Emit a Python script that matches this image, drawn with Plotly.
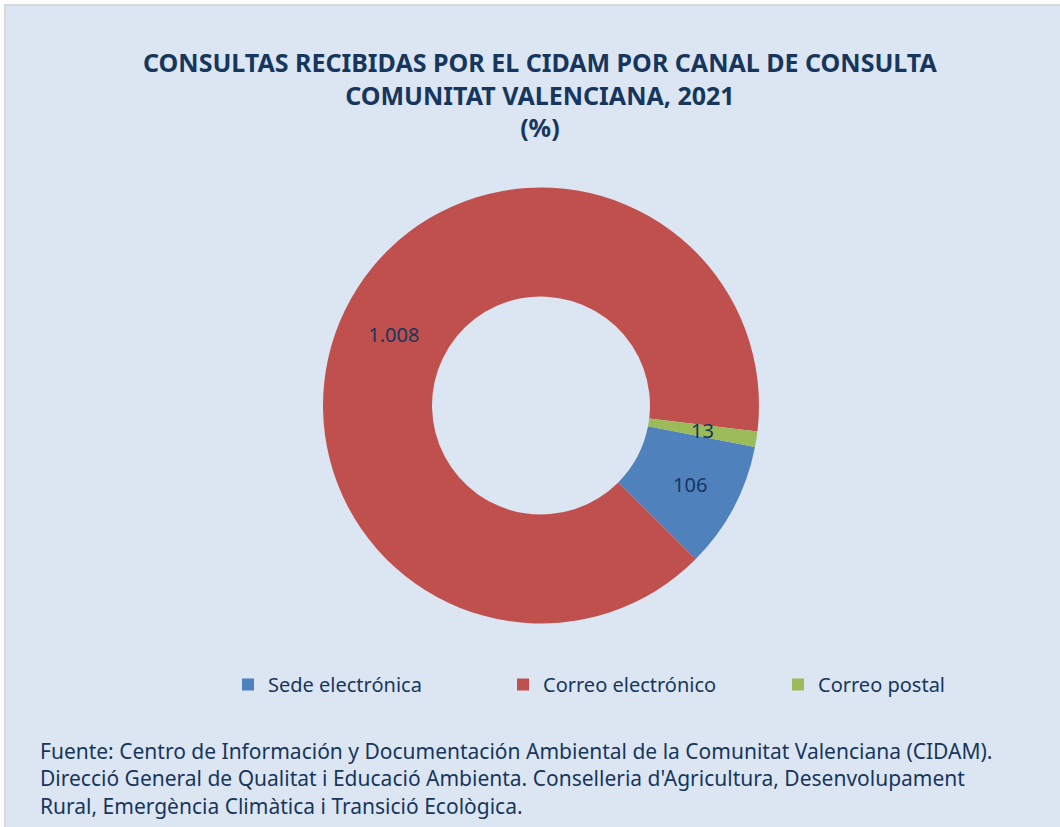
import math
import plotly.graph_objects as go

categories = ["Sede electrónica", "Correo electrónico", "Correo postal"]
values = [106, 1008, 13]
value_labels = ["106", "1.008", "13"]
colors = ["#4F81BD", "#C0504D", "#9BBB59"]

title_lines = [
    "CONSULTAS RECIBIDAS POR EL CIDAM POR CANAL DE CONSULTA",
    "COMUNITAT VALENCIANA, 2021",
    "(%)",
]
source_lines = [
    "Fuente: Centro de Información y Documentación Ambiental de la Comunitat Valenciana (CIDAM).",
    "Direcció General de Qualitat i Educació Ambienta. Conselleria d'Agricultura, Desenvolupament",
    "Rural, Emergència Climàtica i Transició Ecològica.",
]

W, H = 1060, 827
NAVY = "#17365D"
FONT = "Noto Sans"

cx, cy, r = 541, 405.5, 218
HOLE = 0.5
ROTATION = 101

# small slices get their label as an annotation at mid-ring (like the original)
SMALL = 0.03
total = sum(values)
pie_text = [t if v / total >= SMALL else "" for t, v in zip(value_labels, values)]

fig = go.Figure()
fig.add_trace(go.Pie(
    labels=categories,
    values=values,
    text=pie_text,
    textinfo="text",
    textposition="inside",
    insidetextorientation="horizontal",
    textfont=dict(family=FONT, size=20, color=NAVY),
    marker=dict(colors=colors, line=dict(width=0)),
    hole=HOLE,
    sort=False,
    direction="clockwise",
    rotation=ROTATION,
    domain=dict(x=[(cx - r) / W, (cx + r) / W], y=[(H - cy - r) / H, (H - cy + r) / H]),
    hoverinfo="label+value",
))

cum = 0.0
rm = r * (1 + HOLE) / 2
for t, v in zip(value_labels, values):
    frac = v / total
    if frac < SMALL:
        ang = math.radians(ROTATION + 360 * (cum + frac / 2))
        px = cx + rm * math.sin(ang)
        py = cy - rm * math.cos(ang)
        fig.add_annotation(xref="paper", yref="paper", x=px / W, y=1 - py / H,
                           xanchor="center", yanchor="middle", showarrow=False,
                           text=t, font=dict(family=FONT, size=20, color=NAVY))
    cum += frac

fig.add_shape(type="rect", xref="paper", yref="paper",
              x0=5 / W, x1=1.02, y0=-0.02, y1=1 - 5 / H,
              fillcolor="#DCE6F2", line=dict(color="#D9D9D9", width=2), layer="below")

fig.add_annotation(xref="paper", yref="paper", x=540 / W, y=1 - 43 / H,
                   xanchor="center", yanchor="top", showarrow=False, align="center",
                   text="<b>" + "<br>".join(title_lines) + "</b>",
                   font=dict(family=FONT, size=25, color=NAVY))

fig.add_annotation(xref="paper", yref="paper", x=38 / W, y=1 - 735 / H,
                   xanchor="left", yanchor="top", showarrow=False, align="left",
                   text="<br>".join(source_lines),
                   font=dict(family=FONT, size=21, color=NAVY))

fig.update_layout(
    width=W, height=H,
    margin=dict(l=0, r=0, t=0, b=0),
    paper_bgcolor="white",
    plot_bgcolor="rgba(0,0,0,0)",
    showlegend=True,
    legend=dict(orientation="h", x=228 / W, xanchor="left", y=1 - 665 / H, yanchor="top",
                font=dict(family=FONT, size=20, color=NAVY),
                bgcolor="rgba(0,0,0,0)", itemwidth=30, entrywidth=230, traceorder="normal"),
)

fig.write_html("out.html", config={"displayModeBar": False},
               post_script="document.body.style.margin='0';")
